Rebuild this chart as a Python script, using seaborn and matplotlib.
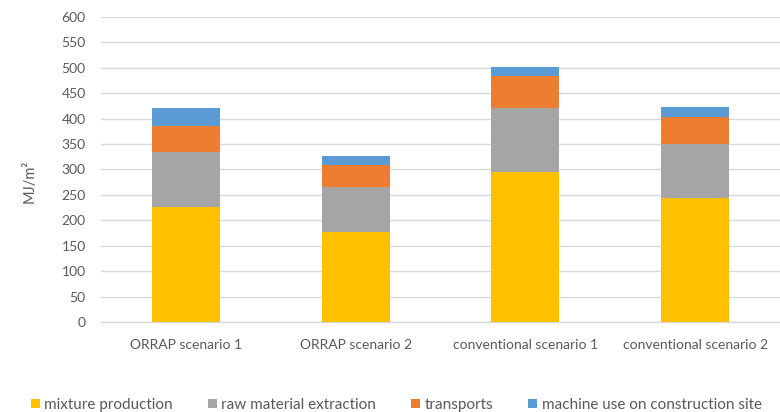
import matplotlib
matplotlib.use("Agg")
import matplotlib.pyplot as plt
from matplotlib.patches import Patch
import numpy as np
import pandas as pd
import seaborn as sns

# Energy demand per square metre of pavement, split by life-cycle stage
scenarios = ["ORRAP scenario 1", "ORRAP scenario 2",
             "conventional scenario 1", "conventional scenario 2"]
mixture_production = [226, 178, 295, 243]
raw_material_extraction = [109, 88, 125, 107]
transports = [51, 42, 63, 54]
machine_use = [35, 19, 18, 18]

stage_names = ["mixture production", "raw material extraction",
               "transports", "machine use on construction site"]
stage_values = [mixture_production, raw_material_extraction, transports, machine_use]
stage_colors = ["#FFC000", "#A5A5A5", "#ED7D31", "#5B9BD5"]

y_ticks = list(range(0, 601, 50))
y_label = "MJ/m²"

text_color = "#595959"
grid_color = "#D9D9D9"

sns.set_theme(style="white")
plt.rcParams["font.family"] = ["Lato", "DejaVu Sans"]

fig = plt.figure(figsize=(7.8, 4.12), dpi=100)
ax = fig.add_axes([101 / 780, 1 - 322 / 412, 679 / 780, 305 / 412])

# Stacked bars: draw cumulative totals from the top segment down
cumulative = np.cumsum(np.array(stage_values), axis=0)
for i in range(len(stage_names) - 1, -1, -1):
    df = pd.DataFrame({"scenario": scenarios, "value": cumulative[i]})
    sns.barplot(data=df, x="scenario", y="value", color=stage_colors[i],
                saturation=1, width=0.4, ax=ax, zorder=3, linewidth=0)

ax.set_ylim(0, 600)
ax.set_yticks(y_ticks)
ax.set_xlim(-0.5, len(scenarios) - 0.5)
ax.grid(axis="y", color=grid_color, linewidth=1, zorder=0)
ax.grid(axis="x", visible=False)
for side in ["top", "right", "left"]:
    ax.spines[side].set_visible(False)
ax.spines["bottom"].set_color(grid_color)
ax.spines["bottom"].set_linewidth(1)

ax.tick_params(axis="both", length=0, labelsize=10, labelcolor=text_color)
ax.tick_params(axis="y", pad=11)
ax.tick_params(axis="x", pad=12)
ax.set_xlabel("")
ax.set_ylabel(y_label, fontsize=10.5, color=text_color)
ax.yaxis.set_label_coords(-0.095, 0.462)

handles = [Patch(facecolor=c, edgecolor="none", label=n)
           for n, c in zip(stage_names, stage_colors)]
fig.legend(handles=handles, loc="center left", bbox_to_anchor=(31 / 780, 1 - 405 / 412),
           ncol=4, frameon=False, fontsize=11, labelcolor=text_color,
           handlelength=0.59, handleheight=0.55, handletextpad=0.28,
           columnspacing=2.3, borderpad=0, borderaxespad=0)

fig.savefig("out.png", dpi=100)
